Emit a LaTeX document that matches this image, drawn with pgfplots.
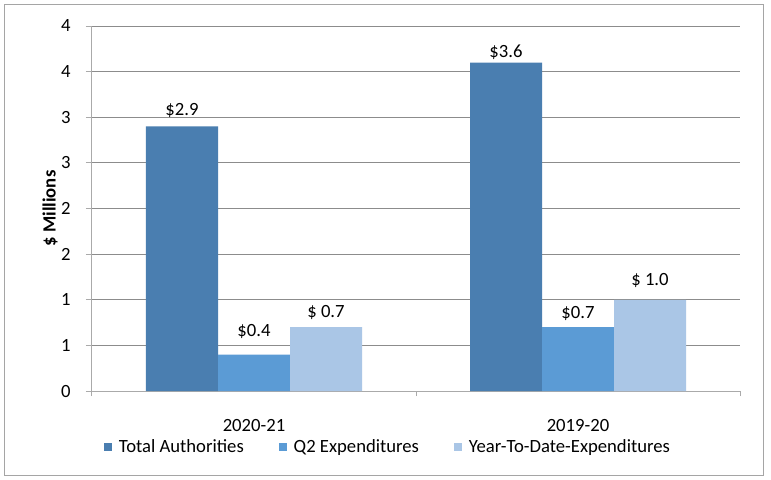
\documentclass[border=0pt]{standalone}
\usepackage{pgfplots}
\usepackage{pgfplotstable}
\pgfplotsset{compat=1.18}
\usepackage{fontspec}
\setmainfont{Carlito}

\definecolor{totauth}{RGB}{74,126,176}
\definecolor{qtwo}{RGB}{91,155,213}
\definecolor{ytd}{RGB}{170,198,230}
\definecolor{gridgray}{RGB}{140,140,140}
\definecolor{axisgray}{RGB}{170,170,170}
\definecolor{framegray}{RGB}{165,165,165}

% x = category, y = value, dy = label offset above bar (pt), lbl = label
\pgfplotstableread{
x y dy lbl
0 2.9 8.5 {\$2.9}
1 3.6 4.1 {\$3.6}
}\tabtotal
\pgfplotstableread{
x y dy lbl
0 0.4 13.5 {\$0.4}
1 0.7 6.75 {\$0.7}
}\tabqtwo
\pgfplotstableread{
x y dy lbl
0 0.7 7.5 {\$\ 0.7}
1 1.0 10.5 {\$\ 1.0}
}\tabytd

\pgfplotsset{sq legend/.style={legend image code/.code={\fill[##1,draw=none] (0pt,-3.2pt) rectangle (6.4pt,3.2pt);}}}

\begin{document}
\begin{tikzpicture}
\fill[white] (0,0) rectangle (578.25pt,-359.25pt);
\draw[framegray, line width=0.75pt] (3pt,-3pt) rectangle (572.25pt,-356.25pt);
\begin{axis}[
  at={(69pt,-293.25pt)}, anchor=south west,
  scale only axis, width=486pt, height=273.75pt,
  ybar=0pt, bar width=54pt,
  xmin=-0.5, xmax=1.5, ymin=0, ymax=4,
  enlargelimits=false,
  xtick={0,1}, xticklabels={2020-21,2019-20},
  minor xtick={-0.5,0.5,1.5},
  ytick={0,0.5,1,1.5,2,2.5,3,3.5,4},
  yticklabels={0,1,1,2,2,3,3,4,4},
  axis lines=left,
  axis line style={-, draw=axisgray, line width=0.75pt},
  ymajorgrids, grid style={gridgray, line width=0.75pt},
  tick align=outside, major tick length=4.5pt, minor tick length=3.75pt,
  xtick style={draw=none},
  minor x tick style={draw=axisgray, line width=0.75pt},
  ytick style={draw=axisgray, line width=0.75pt},
  /pgf/number format/assume math mode=true,
  tick label style={font=\fontsize{14}{16}\selectfont, text=black},
  xticklabel style={anchor=base, yshift=-25.5pt},
  yticklabel style={anchor=east, xshift=-8pt},
  ylabel={\textbf{\$ Millions}},
  ylabel style={at={(axis description cs:-0.0648,0.5)}, anchor=center, font=\fontsize{14}{16}\selectfont},
  nodes near coords,
  point meta=explicit symbolic,
  every node near coord/.append style={font=\fontsize{14}{16}\selectfont, text=black, anchor=base, yshift=\dy pt},
  legend style={at={(axis description cs:0.457,-0.1534)}, anchor=center, draw=none, fill=none,
    font=\fontsize{14}{16}\selectfont, legend columns=-1,
    /tikz/every odd column/.append style={column sep=3pt},
    /tikz/every even column/.append style={column sep=24pt}},
]
\addplot[fill=totauth, draw=none, sq legend, visualization depends on={\thisrow{dy} \as \dy}]
  table[x=x, y=y, meta=lbl] {\tabtotal};
\addplot[fill=qtwo, draw=none, sq legend, visualization depends on={\thisrow{dy} \as \dy}]
  table[x=x, y=y, meta=lbl] {\tabqtwo};
\addplot[fill=ytd, draw=none, sq legend, visualization depends on={\thisrow{dy} \as \dy}]
  table[x=x, y=y, meta=lbl] {\tabytd};
\legend{Total Authorities, Q2 Expenditures, Year-To-Date-Expenditures}
\end{axis}
\end{tikzpicture}
\end{document}
